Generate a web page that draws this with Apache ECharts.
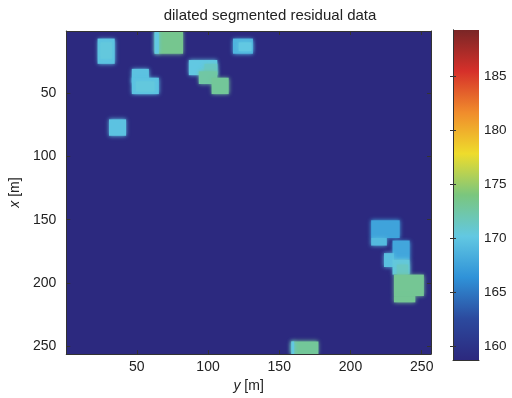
<!DOCTYPE html>
<html>
<head>
<meta charset="utf-8">
<script src="https://cdn.jsdelivr.net/npm/echarts@6/dist/echarts.min.js"></script>
<style>html,body{margin:0;padding:0;background:#fff;}#c{width:512px;height:398px;}</style>
</head>
<body>
<div id="c"></div>
<script>
// ---- data (y[m] = horizontal, x[m] = vertical), edges in metres ----
const titleText = 'dilated segmented residual data';
const xTicks = [50, 100, 150, 200, 250];          // ticks of y [m] axis
const yTicks = [50, 100, 150, 200, 250];          // ticks of x [m] axis
const cbTicks = [160, 165, 170, 175, 180, 185];   // colorbar ticks
const valueMin = 158.77;
const valueMax = 189.3;
const backgroundValue = 158.9;
// patches: [yStart, yEnd, xStart, xEnd, value]
const patchesTopLeft = [
  [22.5, 34.5, 6.5, 26.5, 169.8],
  [24.5, 32.5, 9.5, 22.5, 170.4],
  [62.5, 82.5, 0.5, 18.5, 173.4],
  [62.5, 65.5, 0.5, 18.5, 170.2],
  [117.5, 131.5, 6.5, 18.5, 168.8],
  [121.5, 130.5, 9.5, 16.5, 170.2]
];
const patchesMiddle = [
  [46.5, 58.5, 30.5, 41.5, 169.8],
  [46.5, 65.5, 37.5, 50.5, 169.8],
  [49.5, 62.5, 40.5, 48.5, 170.4],
  [86.5, 106.5, 23.5, 35.5, 170.2],
  [97.5, 106.5, 26.5, 35.5, 171.4],
  [93.5, 106.5, 32.5, 42.5, 172.6],
  [102.5, 114.5, 37.5, 50.5, 173.0],
  [30.5, 42.5, 70.5, 83.5, 169.8]
];
const patchesBottomRight = [
  [214.5, 234.5, 150.5, 164.5, 167.6],
  [214.5, 225.5, 164.5, 170.5, 169.2],
  [229.5, 241.5, 166.5, 181.5, 167.8],
  [223.5, 230.5, 176.5, 187.5, 169.6],
  [229.5, 241.5, 181.5, 193.5, 170.4],
  [232.5, 240.5, 185.5, 193.5, 171.4],
  [230.5, 251.5, 193.5, 210.5, 173.2],
  [230.5, 245.5, 210.5, 215.5, 173.2],
  [158.5, 177.5, 246.5, 256.5, 173.0],
  [158.5, 160.5, 246.5, 256.5, 170.2]
];
// desaturated jet colormap, evenly spaced from valueMin to valueMax
const colormap = ['#2c287e', '#2c4a9e', '#2f92d8', '#62c8e2', '#7ac67e', '#eedc2c', '#f08c2c', '#d6302a', '#7a2626'];

const patches = [[0.5, 256.5, 0.5, 256.5, backgroundValue]]
  .concat(patchesTopLeft, patchesMiddle, patchesBottomRight);

const chart = echarts.init(document.getElementById('c'), null, {renderer: 'canvas'});
const font = 'Liberation Sans, Arial, Helvetica, sans-serif';
const axisCommon = {
  type: 'value', min: 0.5, max: 256.5, z: 5,
  splitLine: {show: false},
  axisLine: {show: true, lineStyle: {color: '#333', width: 1}},
  axisTick: {show: true, inside: true, length: 4, customValues: xTicks, lineStyle: {color: '#333'}},
};
const nameStyle = {fontFamily: font, fontSize: 14, color: '#222',
  rich: {i: {fontFamily: font, fontSize: 14, fontStyle: 'italic', color: '#222'}}};
chart.setOption({
  animation: false,
  backgroundColor: '#fff',
  title: {
    text: titleText, left: 265, top: 3, textAlign: 'center',
    textStyle: {fontFamily: font, fontSize: 15, fontWeight: 'normal', color: '#222'}
  },
  grid: [
    {left: 65, top: 31, width: 366, height: 328, containLabel: false},
    {left: 453, top: 30, width: 26, height: 330, containLabel: false}
  ],
  visualMap: {
    type: 'continuous', show: false, min: valueMin, max: valueMax, dimension: 4,
    seriesIndex: 0, inRange: {color: colormap}
  },
  xAxis: [
    Object.assign({}, axisCommon, {
      gridIndex: 0, position: 'bottom',
      name: '{i|y} [m]', nameLocation: 'middle', nameGap: 19,
      nameTextStyle: nameStyle,
      axisLabel: {customValues: xTicks, margin: 6, fontFamily: font, fontSize: 14, color: '#222'}
    }),
    Object.assign({}, axisCommon, {
      gridIndex: 0, position: 'top', axisLabel: {show: false}
    }),
    {type: 'value', gridIndex: 1, min: 0, max: 1, show: true,
      axisLine: {show: true, lineStyle: {color: '#333'}}, axisTick: {show: false},
      axisLabel: {show: false}, splitLine: {show: false}, z: 5}
  ],
  yAxis: [
    Object.assign({}, axisCommon, {
      gridIndex: 0, position: 'left', inverse: true,
      name: '{i|x} [m]', nameLocation: 'middle', nameGap: 33, nameRotate: 90,
      nameTextStyle: nameStyle,
      axisTick: {show: true, inside: true, length: 4, customValues: yTicks, lineStyle: {color: '#333'}},
      axisLabel: {customValues: yTicks, margin: 10, fontFamily: font, fontSize: 14, color: '#222'}
    }),
    Object.assign({}, axisCommon, {
      gridIndex: 0, position: 'right', inverse: true,
      axisTick: {show: true, inside: true, length: 4, customValues: yTicks, lineStyle: {color: '#333'}},
      axisLabel: {show: false}
    }),
    {type: 'value', gridIndex: 1, min: valueMin, max: valueMax, position: 'right', z: 5,
      splitLine: {show: false},
      axisLine: {show: true, lineStyle: {color: '#333'}},
      axisTick: {show: true, inside: true, length: 3, customValues: cbTicks, lineStyle: {color: '#333'}},
      axisLabel: {customValues: cbTicks, margin: 5, fontFamily: font, fontSize: 13.5, color: '#222'}},
    {type: 'value', gridIndex: 1, min: valueMin, max: valueMax, position: 'left', z: 5,
      splitLine: {show: false},
      axisLine: {show: true, lineStyle: {color: '#333'}},
      axisTick: {show: true, inside: true, length: 3, customValues: cbTicks, lineStyle: {color: '#333'}},
      axisLabel: {show: false}}
  ],
  series: [
    {
      type: 'custom', xAxisIndex: 0, yAxisIndex: 0, clip: true,
      encode: {x: [0, 1], y: [2, 3]},
      data: patches,
      renderItem: function (params, api) {
        const p0 = api.coord([api.value(0), api.value(2)]);
        const p1 = api.coord([api.value(1), api.value(3)]);
        const color = api.visual('color');
        const isBg = params.dataIndex === 0;
        return {
          type: 'rect',
          shape: {x: Math.min(p0[0], p1[0]), y: Math.min(p0[1], p1[1]),
                  width: Math.abs(p1[0] - p0[0]), height: Math.abs(p1[1] - p0[1])},
          style: {fill: color, shadowBlur: isBg ? 0 : 4, shadowColor: color}
        };
      }
    },
    {
      type: 'custom', xAxisIndex: 2, yAxisIndex: 2, clip: true,
      data: [[0, valueMin, 1, valueMax]],
      renderItem: function (params, api) {
        const p0 = api.coord([0, valueMin]);
        const p1 = api.coord([1, valueMax]);
        const stops = colormap.map(function (c, i) { return {offset: i / (colormap.length - 1), color: c}; });
        return {
          type: 'rect',
          shape: {x: p0[0], y: p1[1], width: p1[0] - p0[0], height: p0[1] - p1[1]},
          style: {fill: new echarts.graphic.LinearGradient(0, 1, 0, 0, stops)}
        };
      }
    }
  ]
});
</script>
</body>
</html>
